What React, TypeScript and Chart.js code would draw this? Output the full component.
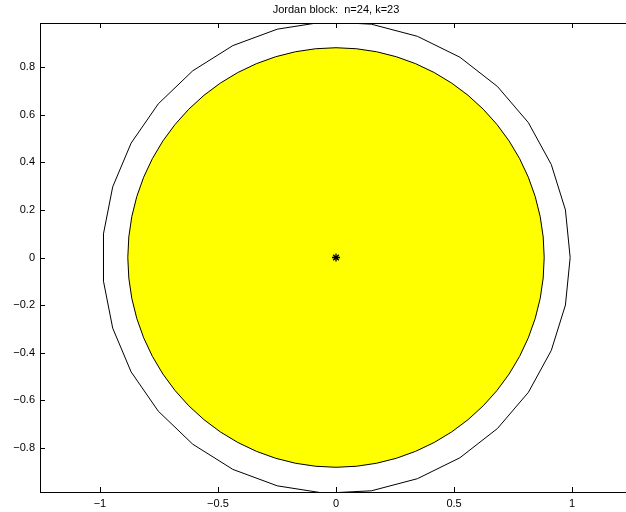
import { useEffect, useRef } from "react";
import { Chart, registerables } from "chart.js";

Chart.register(...registerables);

const TITLE = "Jordan block:  n=24, k=23";

const X_TICKS = [-1, -0.5, 0, 0.5, 1];
const Y_TICKS = [-0.8, -0.6, -0.4, -0.2, 0, 0.2, 0.4, 0.6, 0.8];
const X_LIMITS = [-1.254, 1.254];
const Y_LIMITS = [-0.986, 0.986];

// Outer boundary curve (closed polygon, last vertex repeats the first)
const BOUNDARY_X = [
  0.992, 0.972, 0.912, 0.815, 0.684, 0.525, 0.345, 0.15, -0.05, -0.249, -0.437,
  -0.607, -0.753, -0.868, -0.946, -0.985, -0.985, -0.946, -0.868, -0.753,
  -0.607, -0.437, -0.249, -0.05, 0.15, 0.345, 0.525, 0.684, 0.815, 0.912, 0.972,
  0.992,
];
const BOUNDARY_Y = [
  0, 0.2, 0.391, 0.567, 0.719, 0.842, 0.93, 0.981, 0.991, 0.96, 0.891, 0.785,
  0.646, 0.481, 0.297, 0.1, -0.1, -0.297, -0.481, -0.646, -0.785, -0.891, -0.96,
  -0.991, -0.981, -0.93, -0.842, -0.719, -0.567, -0.391, -0.2, 0,
];

// Filled disk
const DISK_CENTER = [0, 0];
const DISK_RADIUS = 0.882;

// Eigenvalue marker
const EIG_X = [0];
const EIG_Y = [0];

const FONT = "'Liberation Sans', Arial, Helvetica, sans-serif";

const fmt = (v: number) => {
  const s = String(Math.round(v * 100) / 100);
  return s.startsWith("-") ? "\u2212" + s.slice(1) : s;
};

const diskPlugin = {
  id: "disk",
  beforeDatasetsDraw(chart: any) {
    const { ctx } = chart;
    const xs = chart.scales.x;
    const ys = chart.scales.y;
    const cx = xs.getPixelForValue(DISK_CENTER[0]);
    const cy = ys.getPixelForValue(DISK_CENTER[1]);
    const rx = Math.abs(xs.getPixelForValue(DISK_CENTER[0] + DISK_RADIUS) - cx);
    const ry = Math.abs(ys.getPixelForValue(DISK_CENTER[1] + DISK_RADIUS) - cy);
    ctx.save();
    ctx.beginPath();
    ctx.ellipse(cx, cy, rx, ry, 0, 0, Math.PI * 2);
    ctx.fillStyle = "#ffff00";
    ctx.fill();
    ctx.lineWidth = 1;
    ctx.strokeStyle = "#000000";
    ctx.stroke();
    ctx.restore();
  },
};

const framePlugin = {
  id: "frame",
  afterDraw(chart: any) {
    const { ctx, chartArea } = chart;
    const { left, right, top, bottom } = chartArea;
    const xs = chart.scales.x;
    const ys = chart.scales.y;
    const len = 5;
    ctx.save();
    ctx.strokeStyle = "#000000";
    ctx.lineWidth = 1;
    ctx.strokeRect(left + 0.5, top + 0.5, right - left - 1, bottom - top);
    ctx.beginPath();
    for (const v of X_TICKS) {
      const px = Math.round(xs.getPixelForValue(v)) + 0.5;
      ctx.moveTo(px, bottom);
      ctx.lineTo(px, bottom - len);
      ctx.moveTo(px, top);
      ctx.lineTo(px, top + len);
    }
    for (const v of Y_TICKS) {
      const py = Math.round(ys.getPixelForValue(v)) + 0.5;
      ctx.moveTo(left, py);
      ctx.lineTo(left + len, py);
      ctx.moveTo(right, py);
      ctx.lineTo(right - len, py);
    }
    ctx.stroke();

    ctx.fillStyle = "#000000";
    ctx.font = `11px ${FONT}`;
    ctx.textAlign = "center";
    ctx.textBaseline = "alphabetic";
    ctx.fillText(TITLE, (left + right) / 2, 13);
    ctx.restore();
  },
};

export default function App() {
  const canvasRef = useRef<HTMLCanvasElement | null>(null);

  useEffect(() => {
    document.body.style.margin = "0";
    document.body.style.overflow = "hidden";
    const canvas = canvasRef.current;
    if (!canvas) return;

    const boundary = BOUNDARY_X.map((x, i) => ({ x, y: BOUNDARY_Y[i] }));
    const eig = EIG_X.map((x, i) => ({ x, y: EIG_Y[i] }));

    const chart = new Chart(canvas, {
      type: "scatter",
      data: {
        datasets: [
          {
            data: boundary,
            showLine: true,
            pointRadius: 0,
            borderColor: "#000000",
            borderWidth: 1,
            fill: false,
            tension: 0,
          },
          {
            data: eig,
            pointStyle: "star",
            pointRadius: 4,
            borderColor: "#000000",
            backgroundColor: "#000000",
            borderWidth: 1.3,
            showLine: false,
          },
        ],
      },
      options: {
        responsive: false,
        animation: false,
        layout: { padding: { left: 0, right: 40, top: 23, bottom: 0 } },
        plugins: {
          legend: { display: false },
          tooltip: { enabled: false },
          title: { display: false },
        },
        scales: {
          x: {
            type: "linear",
            min: X_LIMITS[0],
            max: X_LIMITS[1],
            grid: { display: false, drawTicks: false },
            border: { display: false },
            afterBuildTicks: (s: any) => {
              s.ticks = X_TICKS.map((value) => ({ value }));
            },
            afterFit: (s: any) => {
              s.height = 20;
            },
            ticks: {
              padding: 5,
              color: "#000000",
              font: { family: FONT, size: 11 },
              maxRotation: 0,
              autoSkip: false,
              callback: (v: any) => fmt(Number(v)),
            },
          },
          y: {
            type: "linear",
            min: Y_LIMITS[0],
            max: Y_LIMITS[1],
            grid: { display: false, drawTicks: false },
            border: { display: false },
            afterBuildTicks: (s: any) => {
              s.ticks = Y_TICKS.map((value) => ({ value }));
            },
            afterFit: (s: any) => {
              s.width = 40;
            },
            ticks: {
              padding: 5,
              color: "#000000",
              font: { family: FONT, size: 11 },
              autoSkip: false,
              callback: (v: any) => fmt(Number(v)),
            },
          },
        },
      },
      plugins: [diskPlugin, framePlugin],
    });

    return () => chart.destroy();
  }, []);

  return (
    <div style={{ width: 626, height: 512, overflow: "hidden", position: "relative" }}>
      <canvas ref={canvasRef} width={672} height={512} style={{ display: "block" }} />
    </div>
  );
}
